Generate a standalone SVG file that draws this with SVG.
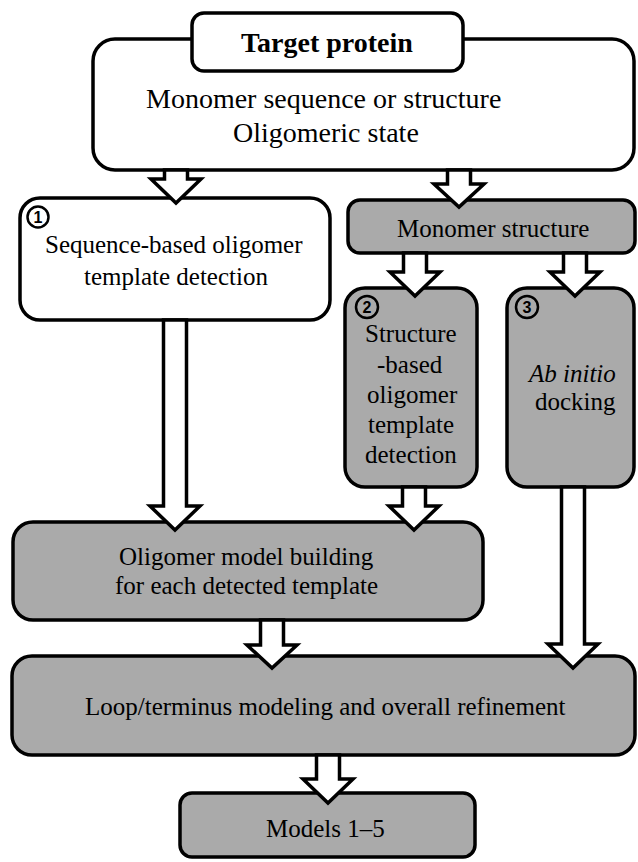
<svg xmlns="http://www.w3.org/2000/svg" width="638" height="862" viewBox="0 0 638 862">
<defs>
<style>
.box{stroke:#000;stroke-width:3.5}
.w{fill:#fff}
.g{fill:#aaaaaa}
.arr{fill:#fff;stroke:#000;stroke-width:3.5;stroke-linejoin:miter}
.num{fill:none;stroke:#000;stroke-width:2.5}
</style>
</defs>
<rect width="638" height="862" fill="#fff"/>
<g id="target">
<rect class="box w" x="93" y="39" width="541" height="131" rx="22"/>
<rect class="box w" x="192" y="13" width="271" height="58" rx="12"/>
<text font-family="Liberation Serif" x="241" y="52" font-size="28" font-weight="bold">Target protein</text>
<text font-family="Liberation Serif" font-size="28" x="146" y="108">Monomer sequence or structure</text>
<text font-family="Liberation Serif" font-size="28" x="233" y="142">Oligomeric state</text>
</g>
<g id="seqbased">
<rect class="box w" x="20" y="198" width="310" height="122" rx="20"/>
<circle class="num" cx="38" cy="217" r="10.5"/>
<text font-family="Liberation Sans" font-weight="bold" font-size="16" x="33.5" y="223">1</text>
<text font-family="Liberation Serif" font-size="25" x="45" y="253">Sequence-based oligomer</text>
<text font-family="Liberation Serif" font-size="25" x="84" y="285">template detection</text>
</g>
<g id="monomer">
<rect class="box g" x="348" y="200" width="287" height="53" rx="12"/>
<text font-family="Liberation Serif" font-size="25" x="397" y="237">Monomer structure</text>
</g>
<g id="structbased">
<rect class="box g" x="345" y="288" width="132" height="199" rx="20"/>
<circle class="num" cx="367" cy="307" r="11"/>
<text font-family="Liberation Sans" font-weight="bold" font-size="16" x="362.5" y="313">2</text>
<text font-family="Liberation Serif" font-size="25" x="365" y="342">Structure</text>
<text font-family="Liberation Serif" font-size="25" x="377" y="373">-based</text>
<text font-family="Liberation Serif" font-size="25" x="367" y="403">oligomer</text>
<text font-family="Liberation Serif" font-size="25" x="368" y="433">template</text>
<text font-family="Liberation Serif" font-size="25" x="365" y="463">detection</text>
</g>
<g id="abinitio">
<rect class="box g" x="507" y="288" width="127" height="199" rx="20"/>
<circle class="num" cx="527" cy="307" r="11"/>
<text font-family="Liberation Sans" font-weight="bold" font-size="16" x="522.5" y="313">3</text>
<text font-family="Liberation Serif" font-size="25" x="529" y="382" font-style="italic">Ab initio</text>
<text font-family="Liberation Serif" font-size="25" x="535" y="410">docking</text>
</g>
<g id="building">
<rect class="box g" x="13" y="522" width="470" height="98" rx="20"/>
<text font-family="Liberation Serif" font-size="25" x="119" y="565">Oligomer model building</text>
<text font-family="Liberation Serif" font-size="25" x="115" y="594">for each detected template</text>
</g>
<g id="refine">
<rect class="box g" x="12" y="656" width="623" height="99" rx="20"/>
<text font-family="Liberation Serif" font-size="25" x="85" y="715">Loop/terminus modeling and overall refinement</text>
</g>
<g id="models">
<rect class="box g" x="180" y="793" width="295" height="64" rx="12"/>
<text font-family="Liberation Serif" font-size="25" x="266" y="837">Models 1–5</text>
</g>
<g id="connectors">
<polygon class="arr" points="164.5,170 187.5,170 187.5,179 201,179 176,203 151,179 164.5,179"/>
<polygon class="arr" points="447.5,170 470.5,170 470.5,184 484,184 459,207 434,184 447.5,184"/>
<polygon class="arr" points="403.5,253 426.5,253 426.5,272 440,272 415,296 390,272 403.5,272"/>
<polygon class="arr" points="563.5,253 586.5,253 586.5,272 600,272 575,296 550,272 563.5,272"/>
<polygon class="arr" points="163.5,320 186.5,320 186.5,506 200,506 175,530 150,506 163.5,506"/>
<polygon class="arr" points="402.5,487 425.5,487 425.5,506 439,506 414,530 389,506 402.5,506"/>
<polygon class="arr" points="260.5,620 283.5,620 283.5,645 297,645 272,668 247,645 260.5,645"/>
<polygon class="arr" points="561.5,487 584.5,487 584.5,644 598,644 573,668 548,644 561.5,644"/>
<polygon class="arr" points="316.5,755 339.5,755 339.5,779 353,779 328,803 303,779 316.5,779"/>
</g>
</svg>
